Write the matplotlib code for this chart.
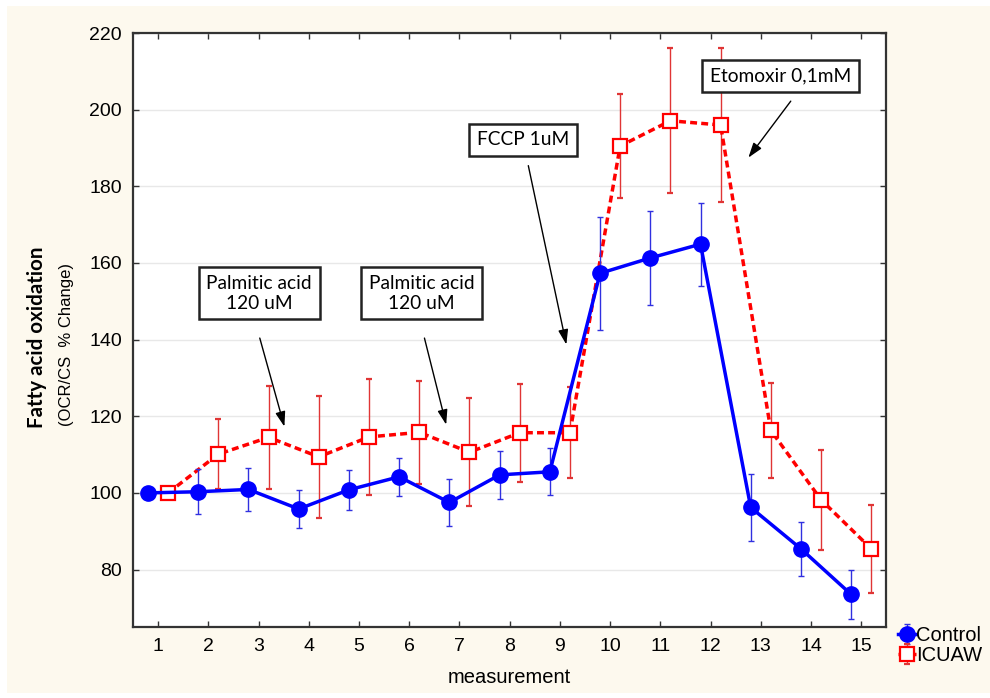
import numpy as np
import matplotlib.pyplot as plt
from matplotlib.patches import Rectangle

#%% Dados

medidas = np.arange(1, 16)
controle = [100, 100.3, 100.9, 95.8, 100.8, 104.2, 97.5, 104.7, 105.5,
            157.3, 161.3, 164.9, 96.2, 85.4, 73.5]
controle_err = [0, 5.9, 5.5, 4.9, 5.3, 5.0, 6.2, 6.2, 6.1,
                14.8, 12.3, 10.8, 8.7, 7.0, 6.5]
icuaw = [100, 110.1, 114.5, 109.4, 114.6, 115.8, 110.6, 115.7, 115.7,
         190.5, 197.1, 196.0, 116.3, 98.2, 85.4]
icuaw_err = [0, 9.2, 13.5, 15.9, 15.2, 13.4, 14.1, 12.8, 11.8,
             13.6, 18.9, 20.0, 12.5, 13.0, 11.5]

notas = ['Palmitic acid\n120 uM', 'Palmitic acid\n120 uM', 'FCCP 1uM', 'Etomoxir 0,1mM']
notas_texto = [(3.01, 152.1), (6.25, 152.1), (8.26, 192.1), (13.39, 208.8)]
setas_inicio = [(3.01, 141.1), (6.29, 141.1), (8.36, 186.1), (13.63, 202.8)]
setas_fim = [(3.53, 116.6), (6.75, 117.1), (9.14, 138.0), (12.72, 186.9)]

#%% Plotagem

plt.rcParams['font.family'] = ['Liberation Sans', 'DejaVu Sans']

fig = plt.figure(figsize=(9.9, 6.98), dpi=100, facecolor='white')
fig.patches.append(Rectangle((7/990, 5/698), 1 - 7/990, 1 - 11/698, transform=fig.transFigure,
                             facecolor='#fdf9ee', edgecolor='none', zorder=-10))

ax = fig.add_axes([0.1343, 0.1017, 0.7610, 0.8510])
ax.set_facecolor('white')

ec = ax.errorbar(medidas - 0.2, controle, yerr=controle_err, color='blue', lw=2.5,
                 marker='o', ms=11, ecolor='#3030e0', elinewidth=1, capsize=2,
                 label='Control', zorder=4)
er = ax.errorbar(medidas + 0.2, icuaw, yerr=icuaw_err, color='red', lw=2.5, ls=(0, (2, 1.2)),
                 marker='s', ms=9.5, mfc='white', mec='red', mew=1.6,
                 ecolor='#e03535', elinewidth=1, capsize=2, label='ICUAW', zorder=3)

for txt, pos, ini, fim in zip(notas, notas_texto, setas_inicio, setas_fim):
    ax.text(pos[0], pos[1], txt, ha='center', va='center', fontsize=13.8,
            family=['Lato', 'DejaVu Sans'], linespacing=1.2, zorder=6,
            bbox=dict(boxstyle='square,pad=0.4', fc='white', ec='#222222', lw=1.8))
    ax.annotate('', xy=fim, xytext=ini, zorder=6,
                arrowprops=dict(arrowstyle='-|>,head_length=0.9,head_width=0.3',
                                color='black', lw=1))

ax.set_xlim(0.5, 15.5)
ax.set_ylim(65, 220)
ax.set_xticks(medidas)
ax.set_yticks(np.arange(80, 221, 20))
ax.tick_params(direction='in', length=4, width=1, labelsize=14, top=True, right=True,
               color='#333333', pad=8)
ax.yaxis.grid(True, color='#e8e8e8', lw=1)
ax.set_axisbelow(True)
for s in ax.spines.values():
    s.set_color('#333333')
    s.set_linewidth(1.6)

ax.set_xlabel('measurement', fontsize=14.5, labelpad=9)
fig.text(37/990, 1 - 337/698, 'Fatty acid oxidation', rotation=90, ha='center', va='center',
         fontsize=14.8, fontweight='bold', family=['Lato', 'DejaVu Sans'])
fig.text(67/990, 1 - 344/698, '(OCR/CS  % Change)', rotation=90, ha='center', va='center',
         fontsize=12)

fig.legend(handles=[ec, er], loc='upper left', bbox_to_anchor=(888/990, 1 - 616/698),
           frameon=False, fontsize=14.5, handlelength=0.9, handletextpad=0.0,
           borderpad=0, labelspacing=0.05)

plt.savefig('out.png', dpi=100, facecolor=fig.get_facecolor())
